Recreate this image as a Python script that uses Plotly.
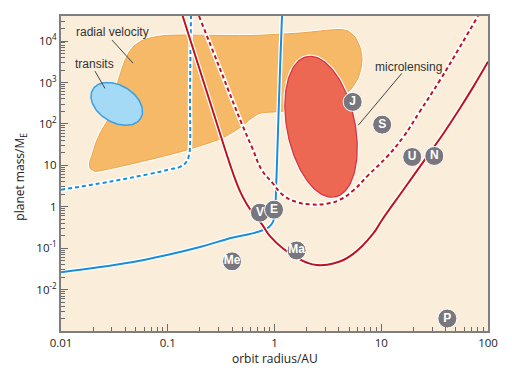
import numpy as np
import plotly.graph_objects as go

# ---------------- data (orbit radius in AU, planet mass in Earth masses) ----------------
# transit detection limit (solid blue)
transit_lim_r = [0.01, 0.0232, 0.0473, 0.0984, 0.2005, 0.409, 0.590, 0.764, 0.888, 0.968, 1.011, 1.033, 1.079, 1.126, 1.176]
transit_lim_m = [0.0262, 0.035, 0.0462, 0.0683, 0.1066, 0.181, 0.22, 0.267, 0.325, 0.43, 0.689, 2.48, 70.3, 1987, 40270]
# transit limit, current (dashed blue)
transit_now_r = [0.01, 0.0232, 0.0682, 0.105, 0.1302, 0.1483, 0.1582, 0.1617, 0.1617, 0.1634, 0.1652]
transit_now_m = [2.58, 3.67, 6.22, 8.0, 9.19, 11.8, 17.5, 30.5, 374, 6060, 40270]
# microlensing limit (solid red)
micro_lim_r = [0.138, 0.3087, 0.3829, 0.4358, 0.4857, 0.5526, 0.6427, 0.7637, 0.9074, 1.209, 1.614, 2.003, 2.485,
               3.555, 5.473, 8.425, 10.10, 16.09, 24.77, 38.13, 54.66, 72.8, 100]
micro_lim_m = [40270, 58.4, 10.57, 4.10, 2.101, 1.138, 0.652, 0.3734, 0.195, 0.0965, 0.0594, 0.04496, 0.03912,
               0.04252, 0.07299, 0.2262, 0.4667, 2.538, 12.15, 57.8, 239.3, 784, 3157]
# microlensing, current (dashed red)
micro_now_r = [0.1962, 0.3119, 0.4961, 0.6155, 0.7637, 0.9475, 1.209, 1.614, 2.150, 3.083, 4.108, 5.473,
               7.515, 11.25, 16.09, 23.07, 35.51, 54.66, 80.6]
micro_now_m = [40270, 1988, 98.1, 27.25, 7.56, 3.877, 1.879, 1.294, 1.138, 1.183, 1.479, 2.482,
               5.725, 15.87, 48.36, 202.5, 1138, 7281, 40270]
# radial velocity region outline
rv_r = [0.0208, 0.0187, 0.0185, 0.0195, 0.0213, 0.0237, 0.0270, 0.0294, 0.0321, 0.0342, 0.0369, 0.0398,
        0.0434, 0.0483, 0.0574, 0.0712, 0.0942, 0.130, 0.590, 1.73, 3.31, 4.11, 4.88, 5.68, 6.32, 6.60,
        6.46, 6.06, 5.21, 4.11, 2.67, 1.73, 1.40, 1.08, 0.732, 0.590, 0.496, 0.322, 0.130, 0.0473, 0.0232, 0.0208]
rv_m = [7.15, 8.46, 11.8, 17.5, 36.0, 66.4, 116, 214, 494, 1077, 1988, 3470,
        5418, 7568, 10283, 12152, 13590, 13974, 13590, 15616, 18458, 18983, 17458, 12495, 7157, 3879,
        2222, 1273, 690, 442, 316, 239, 214, 197, 181, 130, 87.8, 45.0, 21.0, 11.0, 7.36, 7.15]
# transits region (ellipse): centre r, centre m, semi-axes (decades), tilt (deg)
transits_region = (0.0333, 304, 0.262, 0.173, 31)
# microlensing region (ellipse)
microlensing_region = (2.73, 85.3, 0.669, 0.3185, 78.6)
# solar-system planets
planet_names = ["Me", "V", "E", "Ma", "J", "S", "U", "N", "P"]
planet_r = [0.40, 0.73, 0.99, 1.61, 5.4, 10.2, 19.5, 31.4, 41.6]
planet_m = [0.048, 0.72, 0.85, 0.088, 340, 96, 15.9, 16.8, 0.002]
# labels with leader lines
label_text = ["radial velocity", "transits", "microlensing"]
label_r = [0.0132, 0.0130, 8.37]
label_m = [16510, 2777, 2389]
leader_r = [[0.03005, 0.04725], [0.0208, 0.02585], [15.55, 6.095]]
leader_m = [[10573, 2936], [1880, 717], [1654, 92.8]]

x_ticks = [0.01, 0.1, 1, 10, 100]
x_ticktext = ["0.01", "0.1", "1", "10", "100"]
y_ticks = [0.01, 0.1, 1, 10, 100, 1000, 10000]
y_ticktext = ["10<sup>-2</sup>", "10<sup>-1</sup>", "1", "10", "10<sup>2</sup>", "10<sup>3</sup>", "10<sup>4</sup>"]

ASPECT = 106.75 / 41.33  # display length of an x decade relative to a y decade


def ellipse(params, n=160):
    cr, cm, a, b, ang = params
    t = np.linspace(0, 2 * np.pi, n)
    th = np.radians(ang)
    sx = a * np.cos(t) * np.cos(th) - b * np.sin(t) * np.sin(th)
    sy = a * np.cos(t) * np.sin(th) + b * np.sin(t) * np.cos(th)
    return 10 ** (np.log10(cr) + sx), 10 ** (np.log10(cm) - sy * ASPECT)


fig = go.Figure()

# radial velocity region
fig.add_trace(go.Scatter(x=rv_r, y=rv_m, mode="lines", line=dict(color="white", width=3, shape="spline", smoothing=0.6),
                         hoverinfo="skip"))
fig.add_trace(go.Scatter(x=rv_r, y=rv_m, mode="lines", fill="toself", fillcolor="#f6b967",
                         line=dict(color="#efa547", width=1, shape="spline", smoothing=0.6), hoverinfo="skip"))
# transits region
ex, ey = ellipse(transits_region)
fig.add_trace(go.Scatter(x=ex, y=ey, mode="lines", fill="toself", fillcolor="#a5daf6",
                         line=dict(color="#3b9fe0", width=1.5), hoverinfo="skip"))
# microlensing region
ex, ey = ellipse(microlensing_region)
fig.add_trace(go.Scatter(x=ex, y=ey, mode="lines", line=dict(color="white", width=3.5), hoverinfo="skip"))
fig.add_trace(go.Scatter(x=ex, y=ey, mode="lines", fill="toself", fillcolor="#ec6853",
                         line=dict(color="#db3340", width=1.3), hoverinfo="skip"))


def curve(xs, ys, color, dash=None):
    fig.add_trace(go.Scatter(x=xs, y=ys, mode="lines",
                             line=dict(color="white", width=4.5, shape="spline", smoothing=1.3), hoverinfo="skip"))
    fig.add_trace(go.Scatter(x=xs, y=ys, mode="lines",
                             line=dict(color=color, width=2, dash=dash, shape="spline", smoothing=1.3),
                             hoverinfo="skip"))


curve(transit_now_r, transit_now_m, "#1a8dd8", "4px,3px")
curve(transit_lim_r, transit_lim_m, "#1a8dd8")
curve(micro_now_r, micro_now_m, "#c0121d", "4px,3px")
curve(micro_lim_r, micro_lim_m, "#c0121d")

# leader lines
for lr, lm in zip(leader_r, leader_m):
    fig.add_trace(go.Scatter(x=lr, y=lm, mode="lines", line=dict(color="#444444", width=1), hoverinfo="skip"))

# planets
fig.add_trace(go.Scatter(x=planet_r, y=planet_m, mode="markers+text", text=planet_names,
                         textposition="middle center",
                         marker=dict(size=19, color="#78777d", line=dict(color="white", width=1)),
                         textfont=dict(family="Liberation Sans", size=12, color="white", weight="bold"),
                         hoverinfo="skip"))

for t, r, m in zip(label_text, label_r, label_m):
    fig.add_annotation(x=np.log10(r), y=np.log10(m), text=t, showarrow=False, xanchor="left", yanchor="middle",
                       font=dict(family="Liberation Sans", size=12, color="#333333"))

fig.add_annotation(xref="paper", yref="paper", x=-0.096, y=0.49, text="planet mass/M<sub>E</sub>",
                   textangle=-90, showarrow=False, xanchor="center", yanchor="middle",
                   font=dict(family="Open Sans", size=12, color="#222222"))
fig.add_annotation(xref="paper", yref="paper", x=0.5, y=-0.086, text="orbit radius/AU",
                   showarrow=False, xanchor="center", yanchor="middle",
                   font=dict(family="Open Sans", size=12, color="#222222"))

x_minor = [k * 10.0 ** d for d in range(-2, 2) for k in range(2, 10)]
y_minor = [k * 10.0 ** d for d in range(-3, 5) for k in range(2, 10)]

axis_common = dict(type="log", showgrid=False, zeroline=False, showline=True, linecolor="#7f7f7f", linewidth=2,
                   mirror=True, ticks="inside", tickcolor="#6a6a6a", tickwidth=1, ticklen=7, automargin=False,
                   tickfont=dict(family="Open Sans", size=11.5, color="#222222"))

fig.update_layout(
    width=512, height=371,
    margin=dict(l=61, r=24, t=16, b=40, autoexpand=False),
    paper_bgcolor="white", plot_bgcolor="#faeedb",
    showlegend=False,
    xaxis=dict(range=[-2, 2], tickmode="array", tickvals=x_ticks, ticktext=x_ticktext,
               minor=dict(tickmode="array", tickvals=x_minor, ticks="inside", ticklen=4, tickcolor="#6a6a6a"),
               **axis_common),
    yaxis=dict(range=[-3, 4.605], tickmode="array", tickvals=y_ticks, ticktext=y_ticktext,
               minor=dict(tickmode="array", tickvals=y_minor, ticks="inside", ticklen=4, tickcolor="#6a6a6a"),
               **axis_common),
)

fig.write_html("out.html", config={"displayModeBar": False},
               post_script="document.body.style.margin='0';document.body.style.overflow='hidden';")
